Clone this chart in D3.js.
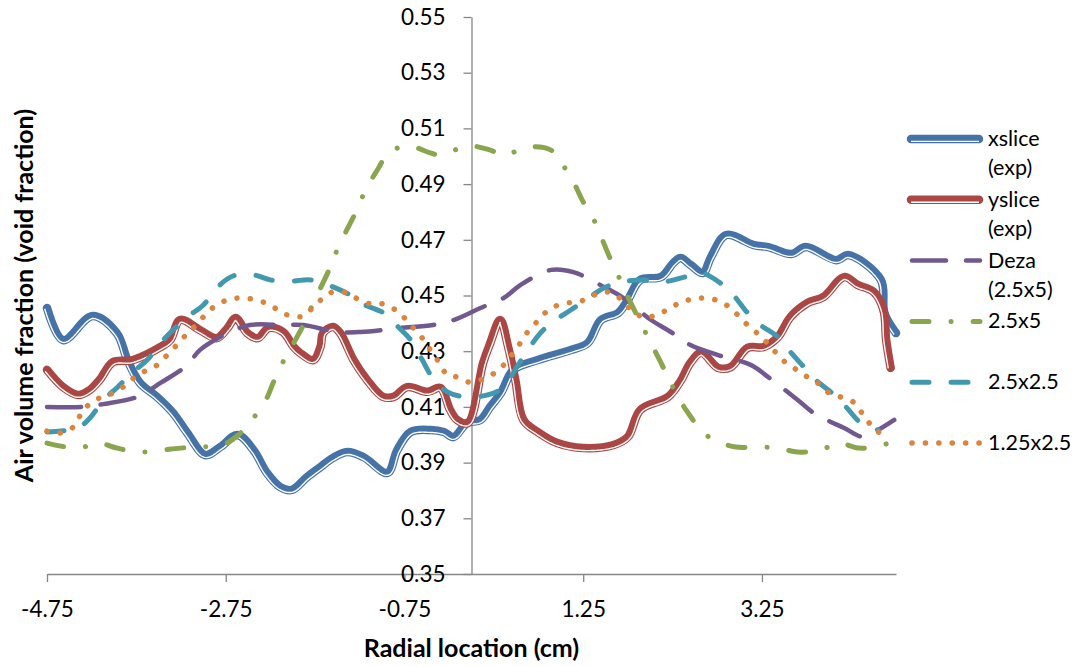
<!DOCTYPE html>
<html>
<head>
<meta charset="utf-8">
<style>
  body { margin: 0; background: #fff; }
  text { font-family: Lato, "Open Sans", sans-serif; fill: #000; }
</style>
</head>
<body>
<svg width="1073" height="666"></svg>
<script src="https://d3js.org/d3.v7.min.js"></script>
<script>
// tick labels
const xTicks = [-4.75, -2.75, -0.75, 1.25, 3.25];
const yTicks = [0.35, 0.37, 0.39, 0.41, 0.43, 0.45, 0.47, 0.49, 0.51, 0.53, 0.55];

// series, [radial location cm, void fraction]
const xslice = [[-4.75,0.4455],[-4.57,0.4340],[-4.24,0.4426],[-3.97,0.4365],[-3.85,0.4268],[-3.71,0.4186],[-3.52,0.4136],[-3.34,0.4078],[-3.18,0.4006],[-2.98,0.3927],[-2.81,0.3956],[-2.62,0.3999],[-2.44,0.3945],[-2.29,0.3863],[-2.14,0.3812],[-2.01,0.3802],[-1.84,0.3848],[-1.69,0.3884],[-1.55,0.3917],[-1.39,0.3938],[-1.21,0.3920],[-0.94,0.3863],[-0.83,0.3945],[-0.68,0.4010],[-0.46,0.4017],[-0.31,0.4010],[-0.20,0.3992],[-0.05,0.4042],[0.10,0.4053],[0.21,0.4100],[0.33,0.4150],[0.47,0.4233],[0.74,0.4268],[1.11,0.4304],[1.30,0.4329],[1.45,0.4412],[1.64,0.4437],[1.75,0.4484],[1.89,0.4556],[2.12,0.4566],[2.26,0.4617],[2.34,0.4635],[2.45,0.4610],[2.59,0.4581],[2.68,0.4638],[2.85,0.4717],[3.16,0.4681],[3.32,0.4674],[3.58,0.4649],[3.74,0.4674],[4.08,0.4627],[4.22,0.4645],[4.58,0.4556],[4.62,0.4437],[4.75,0.4365]];

const yslice = [[-4.75,0.4233],[-4.57,0.4171],[-4.40,0.4143],[-4.27,0.4161],[-4.16,0.4197],[-4.01,0.4261],[-3.79,0.4268],[-3.48,0.4315],[-3.37,0.4340],[-3.26,0.4412],[-3.04,0.4376],[-2.85,0.4347],[-2.73,0.4383],[-2.64,0.4419],[-2.51,0.4365],[-2.39,0.4347],[-2.27,0.4383],[-2.11,0.4369],[-1.99,0.4315],[-1.92,0.4294],[-1.77,0.4268],[-1.69,0.4315],[-1.66,0.4365],[-1.55,0.4387],[-1.47,0.4365],[-1.32,0.4268],[-1.17,0.4197],[-0.99,0.4136],[-0.87,0.4136],[-0.72,0.4171],[-0.49,0.4154],[-0.35,0.4168],[-0.24,0.4089],[-0.16,0.4053],[-0.04,0.4042],[0.13,0.4258],[0.21,0.4329],[0.32,0.4412],[0.41,0.4315],[0.49,0.4197],[0.58,0.4053],[0.74,0.4010],[0.96,0.3970],[1.25,0.3952],[1.59,0.3963],[1.75,0.3992],[1.89,0.4089],[2.20,0.4136],[2.34,0.4193],[2.45,0.4258],[2.57,0.4294],[2.76,0.4240],[2.90,0.4243],[3.09,0.4312],[3.27,0.4315],[3.43,0.4351],[3.57,0.4423],[3.76,0.4473],[3.94,0.4495],[4.17,0.4566],[4.32,0.4538],[4.50,0.4513],[4.61,0.4448],[4.64,0.4340],[4.69,0.4240]];

const deza = [[-4.75,0.4100],[-4.35,0.4100],[-4.12,0.4110],[-3.74,0.4136],[-3.48,0.4186],[-3.18,0.4250],[-3.04,0.4304],[-2.70,0.4369],[-2.48,0.4394],[-2.11,0.4394],[-1.88,0.4394],[-1.50,0.4369],[-1.24,0.4369],[-0.80,0.4383],[-0.43,0.4394],[-0.20,0.4412],[0.10,0.4455],[0.36,0.4491],[0.55,0.4538],[0.89,0.4592],[1.14,0.4584],[1.48,0.4531],[1.70,0.4491],[2.01,0.4412],[2.23,0.4369],[2.45,0.4322],[2.76,0.4286],[3.13,0.4250],[3.32,0.4207],[3.65,0.4125],[3.83,0.4078],[4.17,0.4024],[4.39,0.3992],[4.55,0.4017],[4.73,0.4053]];

const mesh25x5 = [[-4.75,0.3970],[-4.41,0.3952],[-4.16,0.3970],[-4.01,0.3956],[-3.74,0.3938],[-3.48,0.3945],[-3.26,0.3952],[-3.04,0.3956],[-2.79,0.3963],[-2.61,0.3999],[-2.44,0.4060],[-2.29,0.4132],[-2.22,0.4186],[-2.11,0.4261],[-1.99,0.4329],[-1.88,0.4394],[-1.78,0.4466],[-1.58,0.4602],[-1.49,0.4674],[-1.30,0.4796],[-1.18,0.4882],[-1.04,0.4958],[-0.93,0.5012],[-0.71,0.5037],[-0.46,0.5012],[-0.35,0.5004],[-0.04,0.5037],[0.21,0.5022],[0.36,0.5004],[0.63,0.5033],[0.89,0.5022],[1.00,0.4979],[1.14,0.4908],[1.25,0.4836],[1.36,0.4778],[1.46,0.4703],[1.56,0.4627],[1.65,0.4566],[1.75,0.4495],[1.86,0.4423],[1.95,0.4365],[2.07,0.4290],[2.20,0.4207],[2.27,0.4161],[2.40,0.4089],[2.57,0.4017],[2.71,0.3981],[2.96,0.3956],[3.20,0.3956],[3.43,0.3952],[3.65,0.3938],[3.91,0.3945],[4.10,0.3970],[4.34,0.3952],[4.58,0.3960],[4.66,0.3970]];

const mesh25x25 = [[-4.75,0.4010],[-4.41,0.4024],[-4.27,0.4060],[-4.12,0.4125],[-3.97,0.4168],[-3.79,0.4225],[-3.63,0.4268],[-3.48,0.4329],[-3.34,0.4376],[-3.18,0.4423],[-3.00,0.4466],[-2.85,0.4527],[-2.67,0.4570],[-2.44,0.4574],[-2.25,0.4556],[-2.01,0.4552],[-1.80,0.4556],[-1.55,0.4531],[-1.32,0.4495],[-1.19,0.4466],[-0.98,0.4437],[-0.82,0.4387],[-0.68,0.4340],[-0.55,0.4268],[-0.44,0.4207],[-0.27,0.4154],[-0.07,0.4136],[0.18,0.4143],[0.36,0.4171],[0.52,0.4250],[0.61,0.4294],[0.77,0.4365],[0.91,0.4405],[1.11,0.4448],[1.28,0.4484],[1.48,0.4527],[1.67,0.4548],[1.93,0.4556],[2.12,0.4548],[2.38,0.4566],[2.57,0.4581],[2.77,0.4548],[2.92,0.4505],[3.09,0.4437],[3.20,0.4401],[3.43,0.4351],[3.55,0.4304],[3.72,0.4243],[3.85,0.4197],[4.06,0.4143],[4.19,0.4100],[4.36,0.4042],[4.55,0.4017]];

const mesh125x25 = [[-4.75,0.4013],[-4.61,0.4006],[-4.47,0.4024],[-4.39,0.4064],[-4.31,0.4100],[-4.19,0.4128],[-4.06,0.4143],[-3.93,0.4164],[-3.82,0.4193],[-3.70,0.4222],[-3.56,0.4240],[-3.45,0.4272],[-3.35,0.4304],[-3.25,0.4340],[-3.15,0.4373],[-3.05,0.4405],[-2.95,0.4441],[-2.83,0.4470],[-2.70,0.4487],[-2.55,0.4491],[-2.41,0.4484],[-2.25,0.4466],[-2.14,0.4441],[-2.01,0.4426],[-1.88,0.4426],[-1.77,0.4459],[-1.66,0.4491],[-1.55,0.4513],[-1.39,0.4509],[-1.27,0.4487],[-1.13,0.4470],[-0.99,0.4470],[-0.85,0.4448],[-0.74,0.4416],[-0.65,0.4383],[-0.55,0.4347],[-0.46,0.4304],[-0.38,0.4268],[-0.27,0.4215],[-0.16,0.4207],[-0.03,0.4189],[0.10,0.4197],[0.24,0.4218],[0.35,0.4247],[0.44,0.4283],[0.53,0.4322],[0.61,0.4362],[0.71,0.4398],[0.81,0.4434],[0.92,0.4459],[1.06,0.4473],[1.20,0.4477],[1.33,0.4495],[1.47,0.4513],[1.60,0.4505],[1.71,0.4473],[1.82,0.4441],[1.95,0.4419],[2.08,0.4434],[2.22,0.4452],[2.34,0.4477],[2.49,0.4487],[2.63,0.4491],[2.77,0.4480],[2.90,0.4455],[3.00,0.4423],[3.10,0.4391],[3.22,0.4358],[3.32,0.4326],[3.42,0.4290],[3.52,0.4258],[3.64,0.4233],[3.76,0.4207],[3.89,0.4182],[4.00,0.4150],[4.13,0.4136],[4.27,0.4118],[4.36,0.4082],[4.44,0.4046],[4.55,0.4010],[4.67,0.4010]];

const seriesNames = [["xslice", "(exp)"], ["yslice", "(exp)"], ["Deza", "(2.5x5)"], ["2.5x5"], ["2.5x2.5"], ["1.25x2.5"]];

const series = [
  {data: xslice, color: "#4572A7", double: true},
  {data: yslice, color: "#AA4643", double: true},
  {data: deza, color: "#71588F", width: 4.5, dash: "34,20"},
  {data: mesh25x5, color: "#89A54E", width: 5, dash: "17,22,0.1,22"},
  {data: mesh25x25, color: "#4198AF", width: 5, dash: "17,22"},
  {data: mesh125x25, color: "#DB843D", width: 5.5, dash: "0.1,13.3"}
];

const svg = d3.select("svg");
const x = d3.scaleLinear().domain([-4.75, 4.75]).range([47, 896]);
const y = d3.scaleLinear().domain([0.35, 0.55]).range([574, 17]);

const line = d3.line()
  .x(d => x(d[0]))
  .y(d => y(d[1]))
  .curve(d3.curveCatmullRom.alpha(0.5));

// white gap of the thick-thin compound line: the drawn path shifted to its right side
function sideLine(node, off) {
  const len = node.getTotalLength();
  const pts = [];
  for (let s = 0; s <= len; s += 1.5) pts.push(node.getPointAtLength(s));
  pts.push(node.getPointAtLength(len));
  return d3.line()(pts.map((p, i) => {
    const a = pts[Math.max(0, i - 2)], b = pts[Math.min(pts.length - 1, i + 2)];
    const dx = b.x - a.x, dy = b.y - a.y, n = Math.hypot(dx, dy) || 1;
    return [p.x - dy / n * off, p.y + dx / n * off];
  }));
}

// axes
const xAxis = svg.append("g")
  .attr("transform", `translate(0,${y(0.35)})`)
  .call(d3.axisBottom(x).tickValues(xTicks).tickSize(8).tickSizeOuter(0).tickPadding(19)
    .tickFormat(d => d3.format(".2f")(d).replace("\u2212", "-")));
const yAxis = svg.append("g")
  .attr("transform", `translate(${x(0)},0)`)
  .call(d3.axisLeft(y).tickValues(yTicks).tickSize(8).tickSizeOuter(0).tickPadding(18)
    .tickFormat(d3.format(".2f")));
[xAxis, yAxis].forEach(g => {
  g.selectAll("path, line").attr("stroke", "#868686").attr("stroke-width", 1.3);
  g.selectAll("text").style("font-size", "22.5px").attr("fill", "#000");
});

// lines
series.forEach(s => {
  if (s.double) {
    const p = svg.append("path").datum(s.data).attr("d", line)
      .attr("fill", "none").attr("stroke", s.color).attr("stroke-width", 8.5)
      .attr("stroke-linejoin", "round").attr("stroke-linecap", "round");
    svg.append("path").attr("d", sideLine(p.node(), 2.4))
      .attr("fill", "none").attr("stroke", "#fff").attr("stroke-width", 1.4)
      .attr("stroke-linejoin", "round");
  } else {
    svg.append("path").datum(s.data).attr("d", line)
      .attr("fill", "none").attr("stroke", s.color).attr("stroke-width", s.width)
      .attr("stroke-dasharray", s.dash)
      .attr("stroke-linejoin", "round").attr("stroke-linecap", "round");
  }
});

// legend
const legend = svg.append("g").selectAll("g").data(series).join("g")
  .attr("transform", (d, i) => `translate(0,${139 + i * 60.8})`);
legend.each(function(s, i) {
  const g = d3.select(this);
  if (s.double) {
    g.append("line").attr("x1", 911).attr("x2", 979)
      .attr("stroke", s.color).attr("stroke-width", 8.5).attr("stroke-linecap", "round");
    g.append("line").attr("x1", 911).attr("x2", 979).attr("y1", 2.4).attr("y2", 2.4)
      .attr("stroke", "#fff").attr("stroke-width", 1.4);
  } else {
    g.append("line").attr("x1", 912).attr("x2", 980)
      .attr("stroke", s.color).attr("stroke-width", s.width)
      .attr("stroke-dasharray", s.dash).attr("stroke-linecap", "round");
  }
  const t = g.append("text").attr("x", 988).attr("y", 7).style("font-size", "21.5px");
  seriesNames[i].forEach((str, j) => {
    t.append("tspan").attr("x", 988).attr("dy", j === 0 ? 0 : 29).text(str);
  });
});

// axis titles
svg.append("text")
  .attr("x", x(0)).attr("y", 657)
  .attr("text-anchor", "middle")
  .style("font-size", "25px").style("font-weight", "bold")
  .text("Radial location (cm)");
svg.append("text")
  .attr("transform", `translate(33,${(y(0.35) + y(0.55)) / 2}) rotate(-90)`)
  .attr("text-anchor", "middle")
  .style("font-size", "25px").style("font-weight", "bold")
  .text("Air volume fraction (void fraction)");
</script>
</body>
</html>
